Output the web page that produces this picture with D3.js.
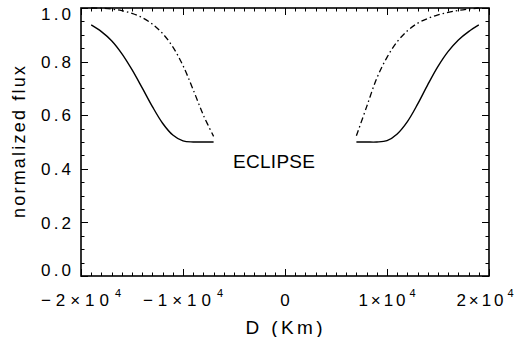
<!DOCTYPE html>
<html>
<head>
<meta charset="utf-8">
<script src="https://cdn.jsdelivr.net/npm/d3@7"></script>
<style>
  body { margin: 0; background: #fff; }
  svg { display: block; }
  text { font-family: "Liberation Sans", Arial, Helvetica, sans-serif; fill: #000; }
</style>
</head>
<body>
<div id="chart"></div>
<script>
// eclipse light curve — flux vs distance

// solid curve, left and right branches (D in km, normalized flux)
const solidLeftD  = [-19000, -18000, -17000, -16000, -15000, -14000, -13000, -12000, -11000, -10000, -9000, -8000, -7000];
const solidLeftF  = [0.937, 0.912, 0.878, 0.830, 0.770, 0.702, 0.632, 0.570, 0.526, 0.504, 0.500, 0.500, 0.500];
const solidRightD = [7000, 8000, 9000, 10000, 11000, 12000, 13000, 14000, 15000, 16000, 17000, 18000, 19000];
const solidRightF = [0.500, 0.500, 0.500, 0.505, 0.530, 0.576, 0.641, 0.714, 0.782, 0.838, 0.881, 0.912, 0.937];

// dash-dot curve
const dashLeftD  = [-19000, -18000, -17000, -16000, -15000, -14000, -13000, -12000, -11000, -10000, -9000, -8000, -7000];
const dashLeftF  = [1.000, 0.999, 0.996, 0.990, 0.980, 0.964, 0.940, 0.905, 0.855, 0.785, 0.695, 0.600, 0.521];
const dashRightD = [7000, 8000, 9000, 10000, 11000, 12000, 13000, 14000, 15000, 16000, 17000, 18000, 19000];
const dashRightF = [0.523, 0.631, 0.738, 0.816, 0.874, 0.915, 0.943, 0.961, 0.974, 0.984, 0.991, 0.996, 1.000];

// axis ticks
const xMajor = [-20000, -10000, 0, 10000, 20000];
const xLabels = [["\u22122\u00d710", "4"], ["\u22121\u00d710", "4"], ["0", ""], ["1\u00d710", "4"], ["2\u00d710", "4"]];
const yMajor = [0, 0.2, 0.4, 0.6, 0.8, 1.0];
const yLabels = ["0.0", "0.2", "0.4", "0.6", "0.8", "1.0"];

const W = 521, H = 337;
const plot = { left: 81, right: 489, top: 8, bottom: 276 };

const svg = d3.select("#chart").append("svg")
  .attr("width", W)
  .attr("height", H);

const x = d3.scaleLinear().domain([-20000, 20000]).range([plot.left, plot.right]);
const y = d3.scaleLinear().domain([0, 1]).range([plot.bottom, plot.top]);

const xMinor = d3.range(-20000, 20001, 1000).filter(v => v % 10000 !== 0);
const yMinor = d3.range(0, 1.0001, 0.05).filter(v => Math.abs(v * 5 - Math.round(v * 5)) > 1e-6);

// ticks on all four sides
const tickG = svg.append("g").attr("stroke", "#000").attr("stroke-width", 1);

function vTicks(vals, len) {
  vals.forEach(v => {
    const px = Math.round(x(v)) + 0.5;
    tickG.append("line").attr("x1", px).attr("x2", px).attr("y1", plot.bottom).attr("y2", plot.bottom - len);
    tickG.append("line").attr("x1", px).attr("x2", px).attr("y1", plot.top).attr("y2", plot.top + len);
  });
}
function hTicks(vals, len) {
  vals.forEach(v => {
    const py = Math.round(y(v)) + 0.5;
    tickG.append("line").attr("y1", py).attr("y2", py).attr("x1", plot.left).attr("x2", plot.left + len);
    tickG.append("line").attr("y1", py).attr("y2", py).attr("x1", plot.right).attr("x2", plot.right - len);
  });
}
vTicks(xMajor, 7);
vTicks(xMinor, 3.5);
hTicks(yMajor, 7);
hTicks(yMinor, 3.5);

// frame
svg.append("rect")
  .attr("x", plot.left)
  .attr("y", plot.top)
  .attr("width", plot.right - plot.left)
  .attr("height", plot.bottom - plot.top)
  .attr("fill", "none")
  .attr("stroke", "#000")
  .attr("stroke-width", 1.6);

// curves
const line = d3.line()
  .x(d => x(d[0]))
  .y(d => y(d[1]))
  .curve(d3.curveCatmullRom.alpha(0.5));

const zip = (a, b) => a.map((v, i) => [v, b[i]]);

[[solidLeftD, solidLeftF], [solidRightD, solidRightF]].forEach(([d, f]) => {
  svg.append("path")
    .attr("d", line(zip(d, f)))
    .attr("fill", "none")
    .attr("stroke", "#000")
    .attr("stroke-width", 1.4);
});

[[dashLeftD, dashLeftF], [dashRightD, dashRightF]].forEach(([d, f]) => {
  svg.append("path")
    .attr("d", line(zip(d, f)))
    .attr("fill", "none")
    .attr("stroke", "#000")
    .attr("stroke-width", 1.3)
    .attr("stroke-dasharray", "6,3,1.5,3");
});

// y tick labels
yMajor.forEach((v, i) => {
  let shift = 0;
  if (i === 0) shift = -6;
  if (i === yMajor.length - 1) shift = 6;
  svg.append("text")
    .attr("x", 71)
    .attr("y", y(v) + shift)
    .attr("dy", "0.36em")
    .attr("text-anchor", "end")
    .attr("font-size", "17px")
    .attr("textLength", 30)
    .attr("lengthAdjust", "spacing")
    .text(yLabels[i]);
});

// x tick labels
xMajor.forEach((v, i) => {
  const [base, sup] = xLabels[i];
  const t = svg.append("text")
    .attr("x", x(v) - (i === xMajor.length - 1 ? 4 : 0))
    .attr("y", 306)
    .attr("text-anchor", "middle")
    .attr("font-size", "17px");
  t.append("tspan").text(base)
    .attr("textLength", base.length > 1 ? (base.startsWith("\u2212") ? 68 : 47) : 12)
    .attr("lengthAdjust", "spacing");
  if (sup) {
    t.append("tspan").attr("dy", -9).attr("dx", 1).attr("font-size", "11px").text(sup);
  }
});

// axis titles
svg.append("text")
  .attr("x", 284)
  .attr("y", 334)
  .attr("text-anchor", "middle")
  .attr("font-size", "19px")
  .attr("textLength", 77)
  .attr("lengthAdjust", "spacing")
  .text("D (Km)");

svg.append("text")
  .attr("transform", "translate(25,142) rotate(-90)")
  .attr("text-anchor", "middle")
  .attr("font-size", "18px")
  .attr("textLength", 152)
  .attr("lengthAdjust", "spacing")
  .text("normalized flux");

// annotation
svg.append("text")
  .attr("x", 274)
  .attr("y", 168)
  .attr("text-anchor", "middle")
  .attr("font-size", "19px")
  .attr("textLength", 82)
  .attr("lengthAdjust", "spacing")
  .text("ECLIPSE");
</script>
</body>
</html>
